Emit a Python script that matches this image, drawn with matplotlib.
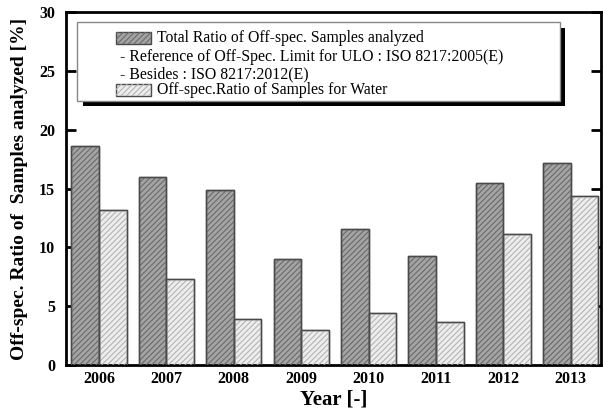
import numpy as np
import matplotlib
matplotlib.use('Agg')
import matplotlib.pyplot as plt
from matplotlib.patches import Rectangle

years = ['2006', '2007', '2008', '2009', '2010', '2011', '2012', '2013']
total_ratio = [18.6, 16.0, 14.85, 9.05, 11.55, 9.3, 15.5, 17.2]
water_ratio = [13.2, 7.35, 3.95, 2.95, 4.45, 3.65, 11.15, 14.35]
yticks = [0, 5, 10, 15, 20, 25, 30]
legend_lines = ['Total Ratio of Off-spec. Samples analyzed',
                '- Reference of Off-Spec. Limit for ULO : ISO 8217:2005(E)',
                '- Besides : ISO 8217:2012(E)',
                'Off-spec.Ratio of Samples for Water']

plt.rcParams['font.family'] = ['Liberation Serif', 'DejaVu Serif']
plt.rcParams['hatch.linewidth'] = 0.8

fig = plt.figure(figsize=(6.03, 4.11), dpi=100)
ax = fig.add_axes([66 / 603, 46 / 411, 535 / 603, 353 / 411])

x = np.arange(len(years))
w = 0.41

# base bars
ax.bar(x - w / 2, total_ratio, w, color='#a4a4a4', edgecolor='#4a4a4a', linewidth=1.0, zorder=2)
ax.bar(x + w / 2, water_ratio, w, color='#ededed', edgecolor='#4a4a4a', linewidth=1.0, zorder=2)
# hatch overlay
ax.bar(x - w / 2, total_ratio, w, fill=False, hatch='//////', edgecolor='#6a6a6a', linewidth=0, zorder=3)
ax.bar(x + w / 2, water_ratio, w, fill=False, hatch='//////', edgecolor='#b4b4b4', linewidth=0, zorder=3)
ax.bar(x - w / 2, total_ratio, w, fill=False, edgecolor='#4a4a4a', linewidth=1.0, zorder=4)
ax.bar(x + w / 2, water_ratio, w, fill=False, edgecolor='#4a4a4a', linewidth=1.0, zorder=4)

ax.set_xlim(-0.49, 7.45)
ax.set_ylim(0, 30)
ax.set_yticks(yticks)
ax.set_xticks(x)
ax.set_xticklabels(years)

for s in ax.spines.values():
    s.set_linewidth(2.0)
ax.tick_params(axis='y', direction='in', length=7, width=2, pad=8, labelsize=11.5, right=True)
ax.tick_params(axis='x', direction='in', length=3, width=2, pad=4, labelsize=11.5)
for lab in ax.get_xticklabels() + ax.get_yticklabels():
    lab.set_fontweight('bold')

ax.set_xlabel('Year [-]', fontsize=15, fontweight='bold', labelpad=2)
ax.set_ylabel('Off-spec. Ratio of  Samples analyzed [%]', fontsize=14, fontweight='bold', labelpad=8)


# custom legend box with shadow (pixel coordinates converted to axes fractions)
def px(xp, yp):
    return (xp - 66) / 535, (365 - yp) / 353


x0, y0 = px(77, 101)
x1, y1 = px(560, 22)
sx0, sy0 = px(83, 106)
ax.add_patch(Rectangle((sx0, sy0), x1 + 5 / 535 - sx0, y1 - sy0 - 6 / 353,
                       transform=ax.transAxes, facecolor='black', edgecolor='none', zorder=5))
ax.add_patch(Rectangle((x0, y0), x1 - x0, y1 - y0, transform=ax.transAxes,
                       facecolor='white', edgecolor='#888888', linewidth=1.0, zorder=6))

line_y = [38, 57, 74, 90]
hx0, _ = px(116, 0)
hx1, _ = px(151, 0)
for i, txt in enumerate(legend_lines):
    _, ty = px(0, line_y[i])
    if i in (0, 3):
        face, hc = ('#a4a4a4', '#6a6a6a') if i == 0 else ('#ededed', '#b4b4b4')
        _, hb = px(0, line_y[i] + 6)
        _, ht = px(0, line_y[i] - 6)
        ax.add_patch(Rectangle((hx0, hb), hx1 - hx0, ht - hb, transform=ax.transAxes,
                               facecolor=face, edgecolor='#4a4a4a', linewidth=1.0, zorder=7))
        ax.add_patch(Rectangle((hx0, hb), hx1 - hx0, ht - hb, transform=ax.transAxes,
                               fill=False, hatch='//////', edgecolor=hc, linewidth=0, zorder=8))
        tx, _ = px(157, 0)
    else:
        tx, _ = px(120, 0)
    ax.text(tx, ty, txt, transform=ax.transAxes, fontsize=11.3, va='center', ha='left', zorder=9)

fig.savefig('out.png', dpi=100)
